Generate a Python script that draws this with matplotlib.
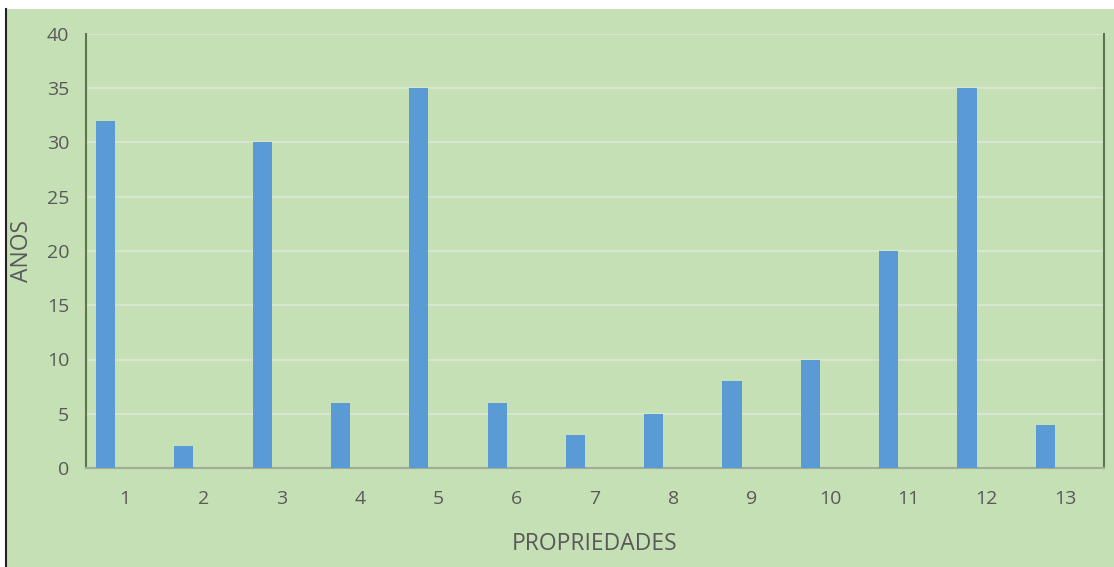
import matplotlib
matplotlib.use('Agg')
import matplotlib.pyplot as plt
from matplotlib.patches import Rectangle
from matplotlib.lines import Line2D
import numpy as np

# data
propriedades = [1, 2, 3, 4, 5, 6, 7, 8, 9, 10, 11, 12, 13]
anos = [32, 2, 30, 6, 35, 6, 3, 5, 8, 10, 20, 35, 4]

plt.rcParams['font.family'] = ['Open Sans', 'DejaVu Sans']

W, H = 1114, 567
fig = plt.figure(figsize=(W / 100, H / 100), dpi=100)
fig.patch.set_facecolor('white')

# green panel + dark left border line
bg = '#c5e0b4'
fig.add_artist(Rectangle((7 / W, 0), 1 - 7 / W, 1 - 9 / H,
                         transform=fig.transFigure, facecolor=bg,
                         edgecolor='none', zorder=0))
fig.add_artist(Line2D([6 / W, 6 / W], [0, 1 - 9 / H],
                      transform=fig.transFigure, color='#222222', lw=1.5))

# plot area
left, right, top, bottom = 86, 1104, 34, 468
ax = fig.add_axes([left / W, 1 - bottom / H, (right - left) / W, (bottom - top) / H])
ax.set_facecolor('none')

x = np.arange(len(propriedades))
ax.bar(x - 0.25, anos, width=0.245, color='#5b9bd5', zorder=3)

ax.set_xlim(-0.5, len(propriedades) - 0.5)
ax.set_ylim(0, 40)
ax.set_yticks(range(0, 41, 5))
ax.set_xticks(x)
ax.set_xticklabels([str(p) for p in propriedades])

ax.yaxis.grid(True, color='#d8e6cf', lw=1.5, zorder=1)
ax.set_axisbelow(True)

ax.spines['top'].set_visible(False)
ax.spines['left'].set_color('#5f7352')
ax.spines['left'].set_linewidth(1.5)
ax.spines['right'].set_color('#5f7352')
ax.spines['right'].set_linewidth(1.5)
ax.spines['bottom'].set_color('#a3ab9c')
ax.spines['bottom'].set_linewidth(1.5)

ax.tick_params(length=0, labelsize=14, labelcolor='#595959')
ax.tick_params(axis='y', pad=12)
ax.tick_params(axis='x', pad=16)

ax.set_xlabel('PROPRIEDADES', fontsize=16.5, color='#595959', labelpad=17)
ax.set_ylabel('ANOS', fontsize=16.5, color='#595959')
ax.yaxis.set_label_coords(-52 / (right - left), 0.5)

fig.savefig('out.png', dpi=100)
